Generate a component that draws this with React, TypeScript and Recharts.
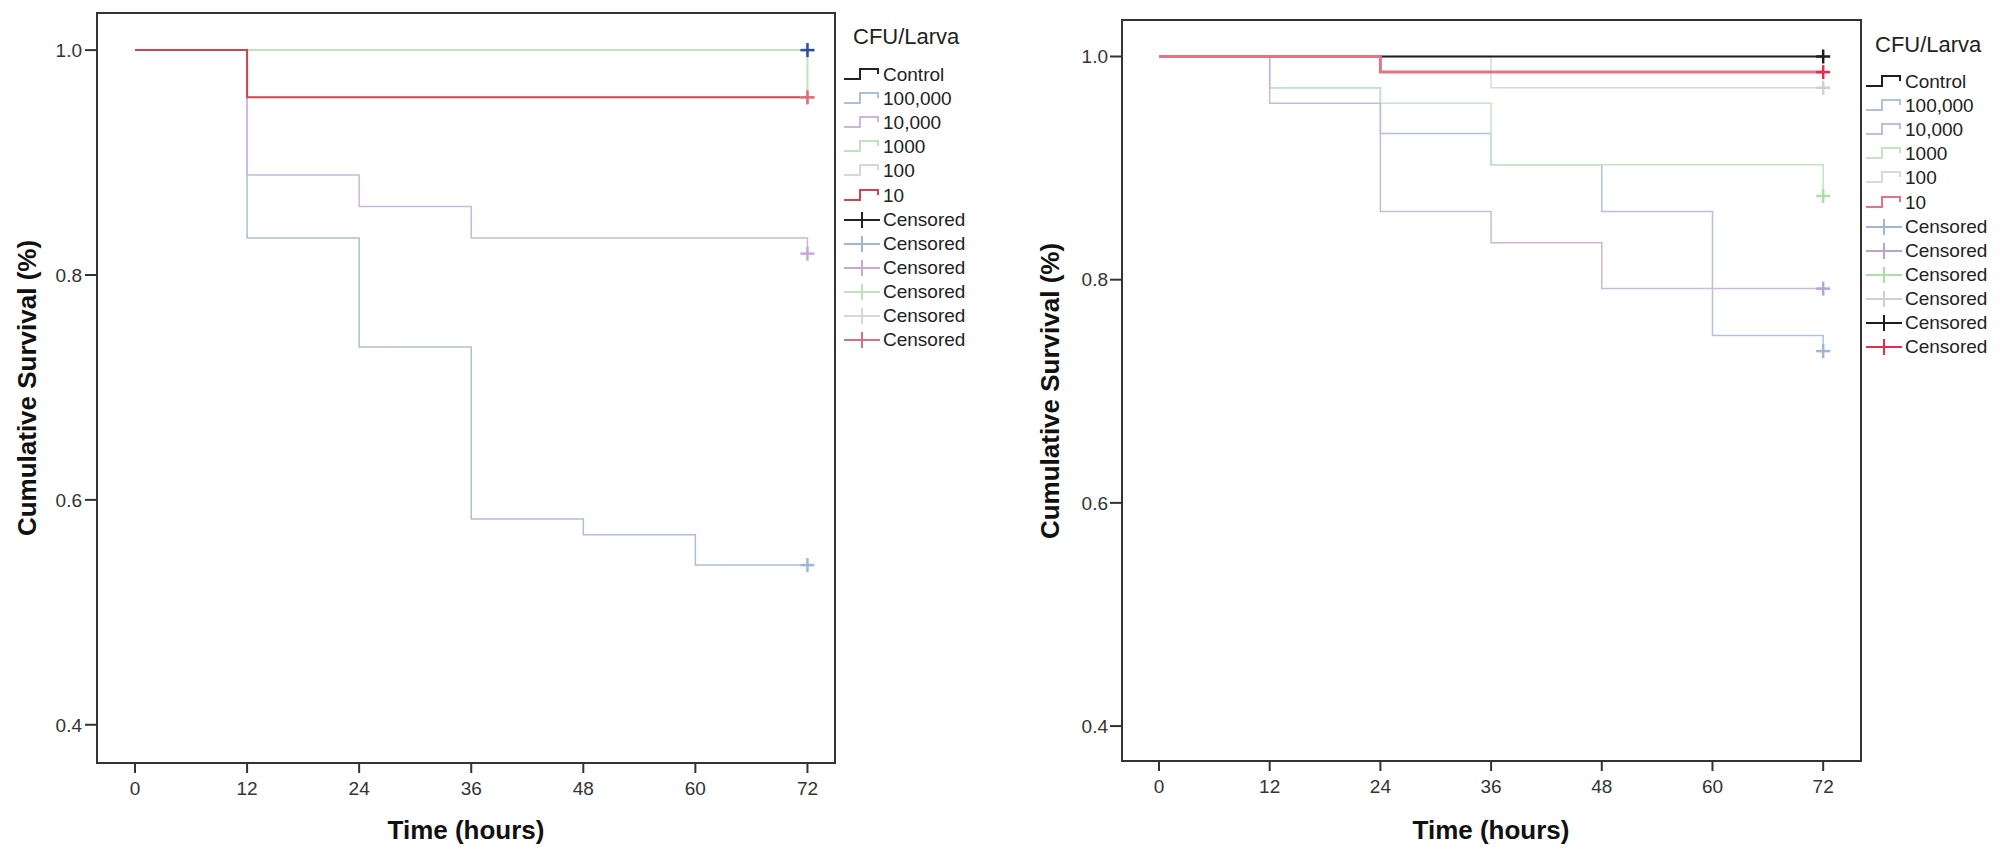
import React from "react";
import { LineChart, Line, XAxis, YAxis, ReferenceArea } from "recharts";

// time points (hours) and Kaplan-Meier survival per dose group
const hours = [0, 12, 24, 36, 48, 60, 72];
const groupLabels = ["Control", "100,000", "10,000", "1000", "100", "10"];
const xTicks = [0, 12, 24, 36, 48, 60, 72];
const yTicks = [0.4, 0.6, 0.8, 1.0];

// left panel
const leftControl = [1, 1, 1, 1, 1, 1, 1];
const left100000 = [1, 0.833, 0.736, 0.583, 0.569, 0.542, 0.542];
const left10000 = [1, 0.889, 0.861, 0.833, 0.833, 0.833, 0.819];
const left1000 = [1, 1, 1, 1, 1, 1, 0.958];
const left100 = [1, 1, 1, 1, 1, 1, 1];
const left10 = [1, 0.958, 0.958, 0.958, 0.958, 0.958, 0.958];

// right panel
const rightControl = [1, 1, 1, 1, 1, 1, 1];
const right100000 = [1, 0.972, 0.931, 0.903, 0.861, 0.75, 0.736];
const right10000 = [1, 0.958, 0.861, 0.833, 0.792, 0.792, 0.792];
const right1000 = [1, 0.972, 0.958, 0.903, 0.903, 0.903, 0.875];
const right100 = [1, 1, 1, 0.972, 0.972, 0.972, 0.972];
const right10 = [1, 1, 0.986, 0.986, 0.986, 0.986, 0.986];

// legend order of the "Censored" rows (index into groupLabels)
const leftCensorOrder = [0, 1, 2, 3, 4, 5];
const rightCensorOrder = [1, 2, 3, 4, 0, 5];

const keys = ["control", "g100000", "g10000", "g1000", "g100", "g10"];

function buildRows(series: number[][]) {
  return hours.map((t, i) => {
    const row: Record<string, number> = { t };
    keys.forEach((k, j) => (row[k] = series[j][i]));
    return row;
  });
}

const leftRows = buildRows([leftControl, left100000, left10000, left1000, left100, left10]);
const rightRows = buildRows([rightControl, right100000, right10000, right1000, right100, right10]);

const FONT = "'Liberation Sans', Arial, Helvetica, sans-serif";
const AXIS = "#333";

type Style = { color: string; width: number; censor: string; legend?: string };

const leftStyles: Style[] = [
  { color: "#222222", width: 1.5, censor: "#2f4f98", legend: "#222222" },
  { color: "#aebfd8", width: 1.5, censor: "#9fb6d6" },
  { color: "#cdb6dc", width: 1.5, censor: "#c6a8d8" },
  { color: "#bfe3bf", width: 2, censor: "#bfe3bf" },
  { color: "#dcd4dc", width: 1.5, censor: "#dcd4dc" },
  { color: "#cf4452", width: 2, censor: "#d8707e" },
];

const rightStyles: Style[] = [
  { color: "#1e1e1e", width: 2, censor: "#1e1e1e" },
  { color: "#b1c2da", width: 1.5, censor: "#9fb6d6" },
  { color: "#cdb8dc", width: 1.5, censor: "#b9a2d4" },
  { color: "#c2e6c2", width: 1.5, censor: "#a8e0a8" },
  { color: "#d8d8d8", width: 1.5, censor: "#d0d0d0" },
  { color: "#e27584", width: 3, censor: "#e0304c" },
];

// draw order (index into keys): red last
const leftDrawOrder = [4, 0, 1, 2, 3, 5];
const rightDrawOrder = [4, 1, 3, 2, 0, 5];

function censorDot(color: string, name: string) {
  return (props: any) => {
    const { cx, cy, index } = props;
    if (index !== hours.length - 1 || cx == null || cy == null) return <g key={`${name}-${index}`} />;
    return (
      <g key={`${name}-${index}`}>
        <line x1={cx - 7} x2={cx + 7} y1={cy} y2={cy} stroke={color} strokeWidth={2.5} />
        <line x1={cx} x2={cx} y1={cy - 7} y2={cy + 7} stroke={color} strokeWidth={2.5} />
      </g>
    );
  };
}

type PanelProps = {
  rows: Record<string, number>[];
  styles: Style[];
  order: number[];
  left: number;
  width: number;
  margin: { top: number; right: number; bottom: number; left: number };
  xDomain: [number, number];
  yDomain: [number, number];
  yTickMargin: number;
};

function Panel({ rows, styles, order, left, width, margin, xDomain, yDomain, yTickMargin }: PanelProps) {
  const tickStyle = { fontSize: 19, fill: AXIS, fontFamily: FONT };
  return (
    <div style={{ position: "absolute", left, top: 0 }}>
      <LineChart width={width} height={858} data={rows} margin={margin}>
        <ReferenceArea
          x1={xDomain[0]}
          x2={xDomain[1]}
          y1={yDomain[0]}
          y2={yDomain[1]}
          fill="none"
          stroke={AXIS}
          strokeWidth={2}
          ifOverflow="visible"
        />
        <XAxis
          dataKey="t"
          type="number"
          domain={xDomain}
          ticks={xTicks}
          allowDataOverflow
          height={40}
          tickSize={10}
          tickMargin={9}
          axisLine={{ stroke: AXIS, strokeWidth: 2 }}
          tickLine={{ stroke: AXIS, strokeWidth: 2 }}
          tick={tickStyle}
        />
        <YAxis
          type="number"
          domain={yDomain}
          ticks={yTicks}
          allowDataOverflow
          width={60}
          tickSize={12}
          tickMargin={yTickMargin}
          tickFormatter={(v: number) => v.toFixed(1)}
          axisLine={{ stroke: AXIS, strokeWidth: 2 }}
          tickLine={{ stroke: AXIS, strokeWidth: 2 }}
          tick={tickStyle}
        />
        {order.map((j) => (
          <Line
            key={keys[j]}
            dataKey={keys[j]}
            type="stepAfter"
            stroke={styles[j].color}
            strokeWidth={styles[j].width}
            dot={censorDot(styles[j].censor, keys[j])}
            activeDot={false}
            isAnimationActive={false}
          />
        ))}
      </LineChart>
    </div>
  );
}

function StepIcon({ color }: { color: string }) {
  return (
    <svg width={38} height={20} style={{ display: "block" }}>
      <polyline points="1,14 17,14 17,4 35,4 35,9" fill="none" stroke={color} strokeWidth={2} />
    </svg>
  );
}

function CensorIcon({ color }: { color: string }) {
  return (
    <svg width={38} height={20} style={{ display: "block" }}>
      <line x1={1} x2={37} y1={10} y2={10} stroke={color} strokeWidth={2} />
      <line x1={19} x2={19} y1={2} y2={18} stroke={color} strokeWidth={2} />
    </svg>
  );
}

function SurvivalLegend({
  left,
  titleTop,
  rowTop,
  styles,
  censorOrder,
}: {
  left: number;
  titleTop: number;
  rowTop: number;
  styles: Style[];
  censorOrder: number[];
}) {
  const rowH = 24.1;
  const rows = [
    ...groupLabels.map((g, j) => ({ label: g, icon: <StepIcon color={styles[j].color} /> })),
    ...censorOrder.map((j) => ({
      label: "Censored",
      icon: <CensorIcon color={styles[j].legend ?? styles[j].censor} />,
    })),
  ];
  return (
    <div style={{ position: "absolute", left, top: 0, fontFamily: FONT, color: "#222" }}>
      <div style={{ position: "absolute", left: 10, top: titleTop - 13, fontSize: 22, lineHeight: "26px", whiteSpace: "nowrap" }}>
        CFU/Larva
      </div>
      {rows.map((r, i) => (
        <div
          key={i}
          style={{
            position: "absolute",
            left: 0,
            top: rowTop + i * rowH - 12,
            height: 24,
            display: "flex",
            alignItems: "center",
            whiteSpace: "nowrap",
          }}
        >
          {r.icon}
          <span style={{ fontSize: 19, marginLeft: 2 }}>{r.label}</span>
        </div>
      ))}
    </div>
  );
}

const axisTitle: React.CSSProperties = {
  position: "absolute",
  fontFamily: FONT,
  fontWeight: "bold",
  fontSize: 26,
  color: "#111",
  whiteSpace: "nowrap",
  transform: "translate(-50%, -50%)",
};

export default function App() {
  return (
    <div style={{ position: "absolute", left: 0, top: 0, width: 2000, height: 858, background: "#fff", overflow: "hidden" }}>
      <Panel
        rows={leftRows}
        styles={leftStyles}
        order={leftDrawOrder}
        left={0}
        width={860}
        margin={{ top: 13, right: 25, bottom: 55, left: 37 }}
        xDomain={[-4.07, 74.95]}
        yDomain={[0.366, 1.033]}
        yTickMargin={3}
      />
      <Panel
        rows={rightRows}
        styles={rightStyles}
        order={rightDrawOrder}
        left={1030}
        width={860}
        margin={{ top: 20, right: 29, bottom: 57, left: 32 }}
        xDomain={[-4.01, 76.1]}
        yDomain={[0.3687, 1.0327]}
        yTickMargin={2}
      />
      <SurvivalLegend left={843} titleTop={37} rowTop={75} styles={leftStyles} censorOrder={leftCensorOrder} />
      <SurvivalLegend left={1865} titleTop={45} rowTop={82} styles={rightStyles} censorOrder={rightCensorOrder} />

      <div style={{ ...axisTitle, left: 466, top: 830 }}>Time (hours)</div>
      <div style={{ ...axisTitle, left: 1491, top: 830 }}>Time (hours)</div>
      <div style={{ ...axisTitle, left: 27, top: 388, transform: "translate(-50%, -50%) rotate(-90deg)" }}>
        Cumulative Survival (%)
      </div>
      <div style={{ ...axisTitle, left: 1050, top: 391, transform: "translate(-50%, -50%) rotate(-90deg)" }}>
        Cumulative Survival (%)
      </div>
    </div>
  );
}
